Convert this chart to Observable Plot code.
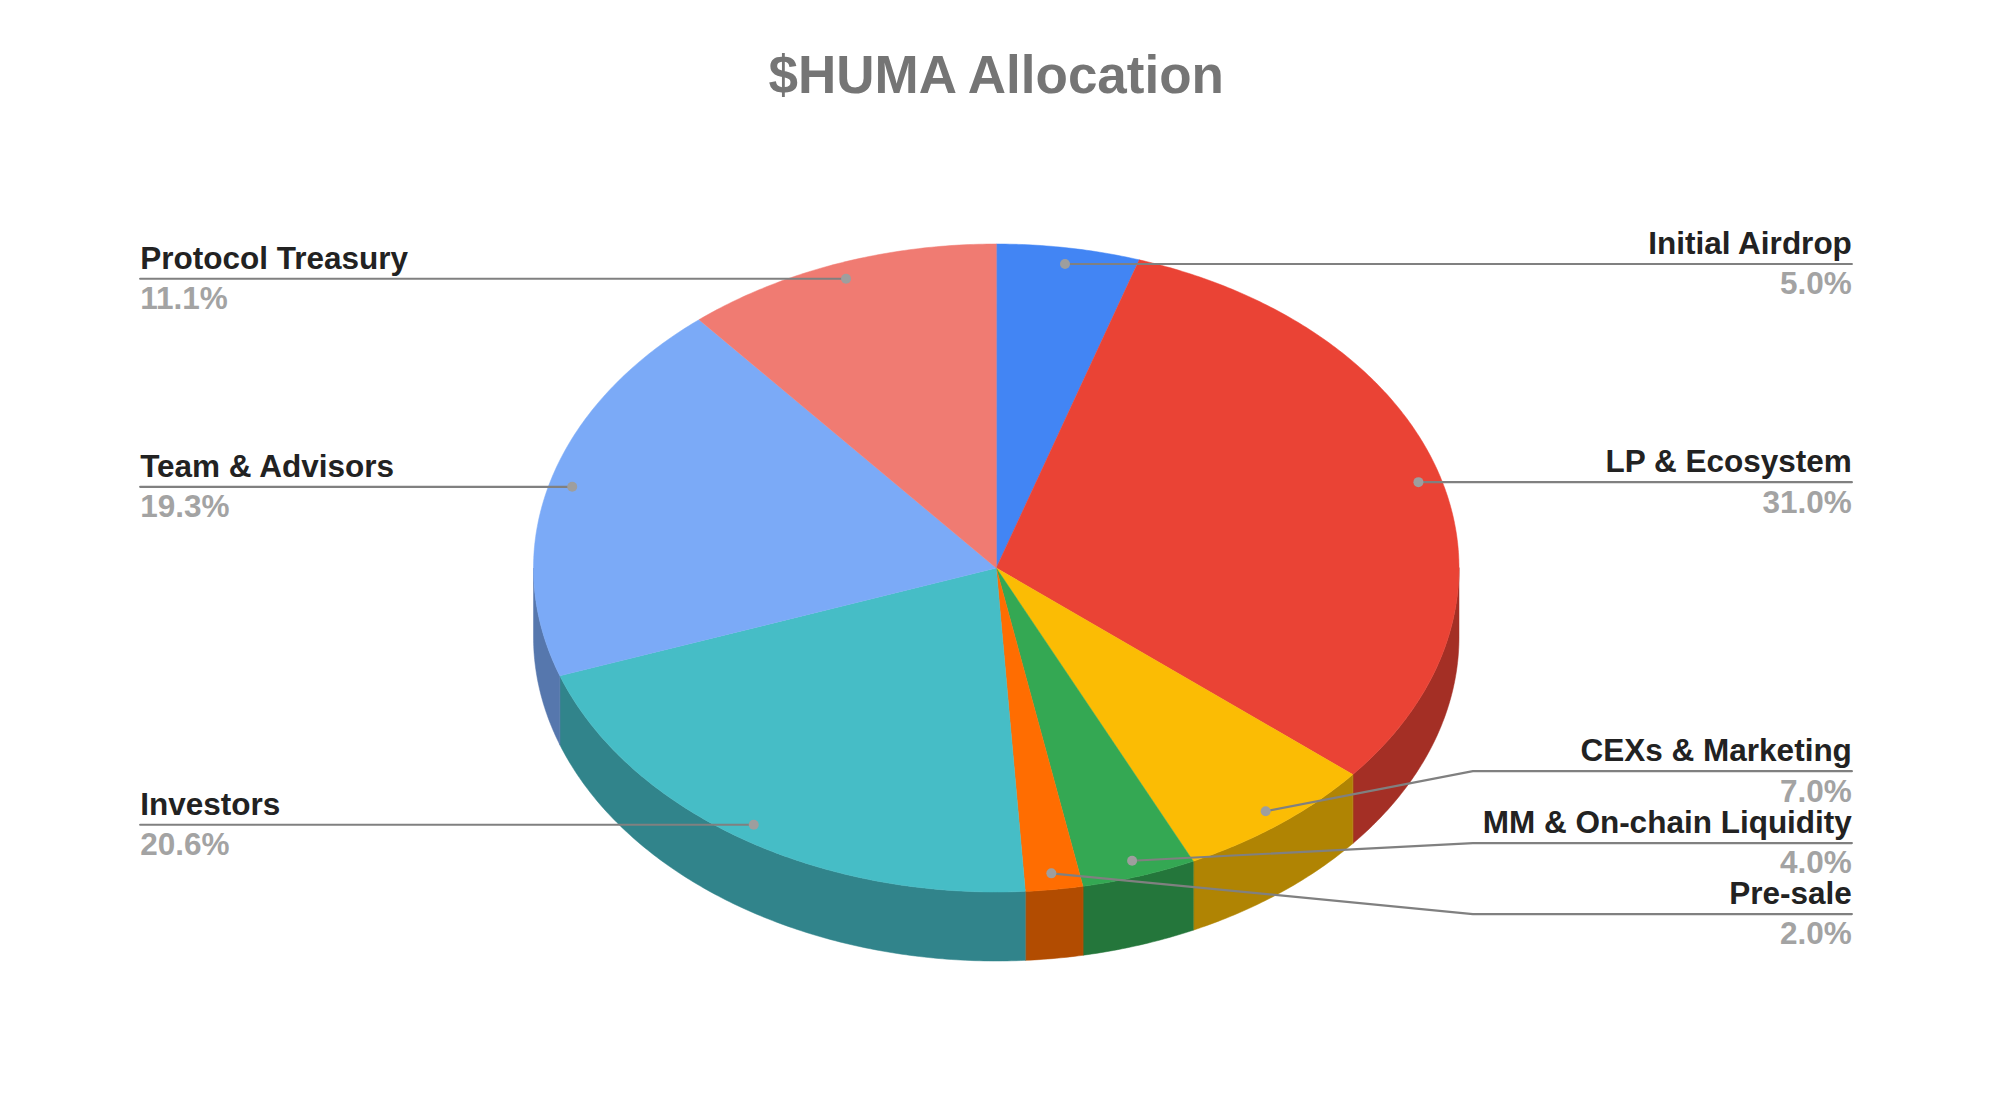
<!DOCTYPE html>
<html>
<head>
<meta charset="utf-8">
<script src="https://cdn.jsdelivr.net/npm/d3@7"></script>
<script src="https://cdn.jsdelivr.net/npm/@observablehq/plot@0.6"></script>
<style>
html,body{margin:0;padding:0;background:#fff}
svg{display:block}
</style>
</head>
<body>
<div id="chart"></div>
<script>
const chartTitle = "$HUMA Allocation";
const names = ["Initial Airdrop","LP & Ecosystem","CEXs & Marketing","MM & On-chain Liquidity","Pre-sale","Investors","Team & Advisors","Protocol Treasury"];
const shares = [5.0,31.0,7.0,4.0,2.0,20.6,19.3,11.1];
const colors = ["#4285F4","#EA4335","#FBBC04","#34A853","#FF6D01","#46BDC6","#7BAAF7","#F07B72"];
const sideColors = ["#2E5DAB","#A42F25","#B08403","#24763B","#B24C01","#31848B","#5677AD","#A85650"];

// Layout constants, in pie units (radius = 1)
const depth = 0.213, dotRadius = 0.95;
const elbowX = 1.03, rightX = 1.849, leftX = -1.85;
const stacked = {"CEXs & Marketing": -0.627, "MM & On-chain Liquidity": -0.849, "Pre-sale": -1.068};

const FONT = "Liberation Sans, Arial, sans-serif";
const TAU = Math.PI * 2;

let cum = 0;
const slices = names.map((name,i)=>{
  const a0 = cum / 100 * TAU; cum += shares[i];
  const a1 = cum / 100 * TAU;
  return {name, share: shares[i], color: colors[i], side: sideColors[i], a0, a1, mid:(a0+a1)/2};
});
const arc = (a0,a1)=>{
  const n = Math.max(2, Math.ceil((a1-a0)/0.01));
  return d3.range(n+1).map(k=>{const a=a0+(a1-a0)*k/n; return [Math.sin(a),Math.cos(a)];});
};
const tops = slices.flatMap(s=>[[0,0],...arc(s.a0,s.a1)].map(([x,y])=>({x,y,id:s.name,c:s.color})));
const sides = slices.flatMap(s=>{
  const a0 = Math.max(s.a0, Math.PI/2), a1 = Math.min(s.a1, Math.PI*1.5);
  if (a1 <= a0) return [];
  const upper = arc(a0,a1);
  const lower = upper.map(([x,y])=>[x,y-depth]).reverse();
  return [...upper,...lower].map(([x,y])=>({x,y,id:s.name,c:s.side}));
});
const labels = slices.map(s=>{
  const dx = dotRadius*Math.sin(s.mid), dy = dotRadius*Math.cos(s.mid);
  const right = dx > 0;
  const ly = stacked[s.name] ?? dy;
  return {...s, dx, dy, right, ly, lx: right ? rightX : leftX};
});
const leaders = labels.flatMap(l=>{
  const pts = [[l.dx,l.dy]];
  if (l.name in stacked) pts.push([elbowX,l.ly]);
  pts.push([l.lx,l.ly]);
  return pts.map(([x,y])=>({x,y,id:l.name}));
});
const nameStyle = {x:"lx",y:"ly",text:"name",lineAnchor:"bottom",dy:-10,fontSize:31.5,fontWeight:"bold",fill:"#222222"};
const pctStyle = {x:"lx",y:"ly",text:d=>d.share.toFixed(1)+"%",lineAnchor:"top",dy:8,fontSize:31.5,fontWeight:"bold",fill:"#a3a3a3"};
const lefts = labels.filter(d=>!d.right), rights = labels.filter(d=>d.right);

const plot = Plot.plot({
  width:1999, height:1115, margin:0,
  style:{background:"#fff",fontFamily:FONT},
  x:{domain:[-1,1],range:[533,1458.5],axis:null},
  y:{domain:[1,-1],range:[243.5,891.5],axis:null},
  color:{type:"identity"},
  marks:[
    Plot.line(sides,{x:"x",y:"y",z:"id",fill:"c",stroke:"c",strokeWidth:0.5,curve:"linear-closed"}),
    Plot.line(tops,{x:"x",y:"y",z:"id",fill:"c",stroke:"c",strokeWidth:0.5,curve:"linear-closed"}),
    Plot.line(leaders,{x:"x",y:"y",z:"id",stroke:"#808080",strokeWidth:2.2,curve:"linear"}),
    Plot.dot(labels,{x:"dx",y:"dy",r:5,fill:"#9e9e9e",stroke:null}),
    Plot.text(lefts,{...nameStyle,textAnchor:"start"}),
    Plot.text(rights,{...nameStyle,textAnchor:"end"}),
    Plot.text(lefts,{...pctStyle,textAnchor:"start"}),
    Plot.text(rights,{...pctStyle,textAnchor:"end"}),
    Plot.text([chartTitle],{x:[0],frameAnchor:"top",dy:55,lineAnchor:"top",fontSize:53,fontWeight:"bold",fill:"#757575"})
  ]
});
document.getElementById("chart").appendChild(plot);
</script>
</body>
</html>
